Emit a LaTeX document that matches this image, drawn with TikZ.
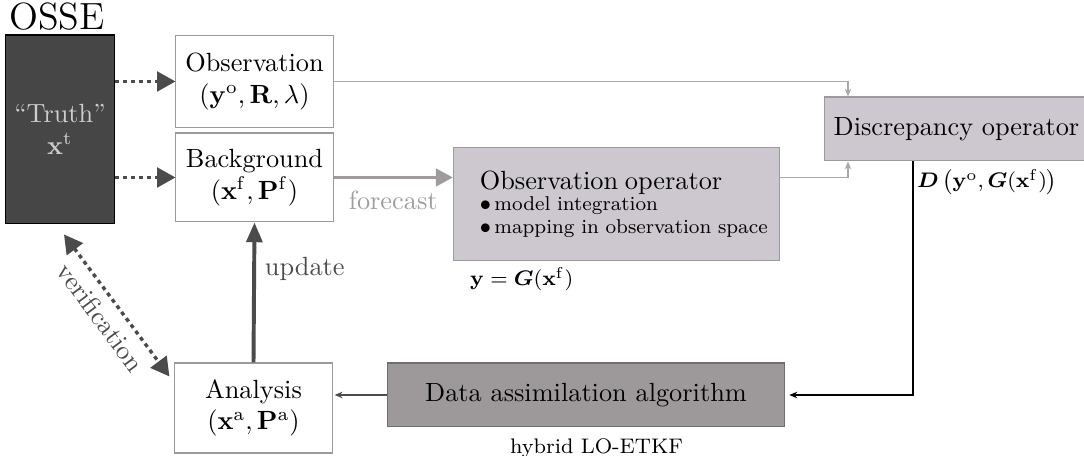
\documentclass[tikz,border=0pt]{standalone}
\usepackage{amsmath}
\usetikzlibrary{arrows.meta,calc}

\definecolor{truthfill}{RGB}{70,70,70}
\definecolor{truthtext}{RGB}{205,205,205}
\definecolor{opfill}{RGB}{205,200,207}
\definecolor{dafill}{RGB}{157,153,154}
\definecolor{boxline}{RGB}{155,155,155}
\definecolor{fcgray}{RGB}{160,156,156}
\definecolor{darkline}{RGB}{75,75,75}
\definecolor{obsline}{RGB}{170,170,170}

\begin{document}
\begin{tikzpicture}[x=0.38pt,y=0.38pt,yscale=-1,
  box/.style={draw=boxline, fill=white, align=center, inner sep=2pt},
  opbox/.style={draw=boxline, fill=opfill},
  dotarrow/.style={darkline, line width=1.3pt, dash pattern=on 1.5pt off 1.5pt, -{Triangle[length=7pt,width=7.5pt]}},
  thinarrow/.style={-{Stealth[length=3pt,width=2.5pt]}, line width=0.4pt},
  lbl/.style={font=\footnotesize, inner sep=1pt}]
\useasboundingbox (0,0) rectangle (1084,456);

% OSSE block
\node[font=\Large] (osse) at (57,17) {OSSE};
\node[draw=black, fill=truthfill, text=truthtext, align=center, minimum width=40.3pt, minimum height=71.8pt] (truth) at (60,129.5) {``Truth''\\ $\mathbf{x}^{\mathrm{t}}$};

% state boxes
\node[box, minimum width=59.7pt, minimum height=35pt] (obs) at (254.5,81.5) {Observation\\ $(\mathbf{y}^{\mathrm{o}},\mathbf{R},\lambda)$};
\node[box, minimum width=59.7pt, minimum height=33.8pt] (bg) at (254.5,177.5) {Background\\ $(\mathbf{x}^{\mathrm{f}},\mathbf{P}^{\mathrm{f}})$};
\node[box, minimum width=59.7pt, minimum height=34.2pt] (ana) at (253.5,408) {Analysis\\ $(\mathbf{x}^{\mathrm{a}},\mathbf{P}^{\mathrm{a}})$};

% operators
\node[opbox, anchor=north west, minimum height=42.9pt, text width=104pt, inner xsep=10pt, align=left, font=\fontsize{7.6pt}{8.6pt}\selectfont] (obsop) at (453,147) {{\normalsize Observation operator}\\[-0.5pt] \mbox{$\bullet$\,model integration}\\ \mbox{$\bullet$\,mapping in observation space}};
\node[opbox, minimum width=96.1pt, minimum height=24.3pt] (disc) at (956.5,129) {Discrepancy operator};
\node[draw=darkline!80, fill=dafill, minimum width=151.2pt, minimum height=24.3pt] (da) at (586,395) {Data assimilation algorithm};

% Text Node
\node[lbl, anchor=north west] (ylbl) at ($(obsop.south west)+(14,3)$) {$\mathbf{y}=\boldsymbol{G}(\mathbf{x}^{\mathrm{f}})$};
% Text Node
\node[lbl, anchor=west] (dlbl) at (914,182) {$\boldsymbol{D}\left(\mathbf{y}^{\mathrm{o}},\boldsymbol{G}(\mathbf{x}^{\mathrm{f}})\right)$};
% Text Node
\node[lbl, below=3pt, xshift=4pt] (hlbl) at (da.south) {hybrid LO-ETKF};

% truth -> observation, background
\draw[dotarrow] (truth.east |- obs.west) -- (obs.west);
\draw[dotarrow] (truth.east |- bg.west) -- (bg.west);
\draw[dotarrow, {Triangle[length=7pt,width=7.5pt]}-{Triangle[length=7pt,width=7.5pt]}] ($(truth.south)+(4,10)$) -- node[midway, rotate=-53.4, below, text=darkline] (verif) {verification} ($(ana.north west)+(-5,14)$);

% cycle
\draw[darkline, line width=1.5pt, -{Triangle[length=7.5pt,width=6pt]}] (ana.north) -- node[pos=0.67, right=0pt, text=darkline] (upd) {update} (bg.south);
\draw[fcgray, line width=1.5pt, -{Triangle[length=6.5pt,width=6.5pt]}] (bg.east) -- node[below=1pt, text=fcgray] (fc) {forecast} (obsop.west |- bg.east);
\draw[obsline, thinarrow] (obs.east) -| ($(disc.north)+(-108.5,0)$);
\draw[obsline, thinarrow] (obsop.east |- bg.east) -| ($(disc.south)+(-108.5,0)$);
\draw[thinarrow, shorten >=1.5pt] ($(disc.south)+(-43.5,0)$) |- (da.east);
\draw[darkline, thinarrow, shorten >=0.8pt] (da.west) -- (da.west -| ana.east);

\end{tikzpicture}
\end{document}
